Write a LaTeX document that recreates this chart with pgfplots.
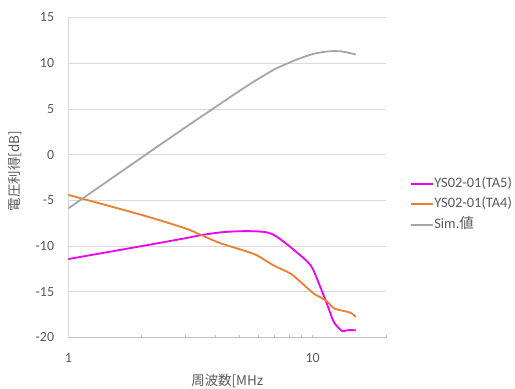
\documentclass[border=0pt]{standalone}
\usepackage{fontspec}
\setmainfont{Carlito}
\newfontfamily\jp{Noto Sans CJK JP}
\usepackage{pgfplots}
\pgfplotsset{compat=1.18}
\definecolor{tx}{HTML}{595959}
\definecolor{gridc}{HTML}{D9D9D9}
\definecolor{axc}{HTML}{BFBFBF}
\definecolor{cmag}{HTML}{F000F0}
\definecolor{corg}{HTML}{ED7D31}
\definecolor{cgry}{HTML}{A5A5A5}
\begin{document}
\begin{tikzpicture}
\path[use as bounding box] (-68.3bp,-50.7bp) rectangle (446.7bp,337.5bp);
\begin{axis}[
  at={(0,0)}, anchor=south west,
  scale only axis, width=318bp, height=320bp,
  xmode=log, log basis x=10,
  xmin=1, xmax=20, ymin=-20, ymax=15,
  ytick={-20,-15,...,15},
  xtick={1,10}, xticklabels={1,10},
  minor xtick={2,3,4,5,6,7,8,9,20},
  axis lines*=left,
  axis line style={-},
  x axis line style={draw=axc, line width=0.75bp},
  y axis line style={draw=gridc, line width=0.75bp},
  tick align=inside,
  major tick length=3bp, minor tick length=3bp,
  xtick style={draw=axc, line width=0.75bp},
  ytick style={draw=none},
  ymajorgrids,
  major grid style={draw=gridc, line width=0.75bp},
  /pgf/number format/assume math mode=true,
  ticklabel style={font=\fontsize{14}{16}\selectfont, text=tx},
  yticklabel style={inner sep=0pt, anchor=east, xshift=-14bp},
  xticklabel style={inner sep=0pt, anchor=north, yshift=-16bp},
  xlabel={\jp 周波数[MHz},
  ylabel={\jp 電圧利得[dB]},
  label style={font=\fontsize{13.5}{16}\selectfont, text=tx},
  xlabel style={at={(axis description cs:0.5,0)}, anchor=center, yshift=-43bp},
  ylabel style={at={(axis description cs:-0.167,0.52)}, anchor=center},
  legend style={at={(axis description cs:1.0745,0.4166)}, anchor=west,
    draw=none, fill=none, inner sep=0pt, outer sep=0pt,
    font=\fontsize{14.5}{16}\selectfont, text=tx,
    nodes={text height=10bp, text depth=3bp, inner sep=0.5bp, anchor=west},
    row sep=6.5bp},
  legend cell align=left,
  legend image code/.code={\draw[#1] (0bp,0bp) -- (22bp,0bp);},
  every axis plot/.append style={line width=1.8bp, smooth, no markers},
]
\addplot[cmag] coordinates {
 (1,-11.42) (2,-10.0) (3,-9.15) (3.5,-8.8) (4.2,-8.5) (5,-8.38) (5.6,-8.37)
 (6.5,-8.5) (7.15,-9.0) (8.4,-10.45) (9.8,-12.1) (10.6,-14.1) (11.5,-16.5)
 (12.2,-18.3) (13.2,-19.3) (13.8,-19.2) (15,-19.2)
};
\addlegendentry{YS02-01(TA5)}
\addplot[corg] coordinates {
 (1,-4.4) (2,-6.6) (3,-8.05) (3.5,-8.8) (4.2,-9.7) (5.06,-10.37) (5.9,-11.0)
 (6.9,-12.1) (8.1,-13.0) (8.9,-13.9) (10.1,-15.2) (10.75,-15.6) (11.5,-16.1)
 (12.2,-16.8) (13.4,-17.1) (14.3,-17.3) (15,-17.75)
};
\addlegendentry{YS02-01(TA4)}
\addplot[cgry] coordinates {
 (1,-5.88) (2,-0.3) (3,2.95) (4,5.2) (5,6.95) (6,8.3) (7,9.35) (8,10.05)
 (9,10.6) (10,11.0) (11,11.22) (12,11.32) (13,11.3) (14,11.15) (15,10.95)
};
\addlegendentry{Sim.{\jp 値}}
\end{axis}
\end{tikzpicture}
\end{document}
